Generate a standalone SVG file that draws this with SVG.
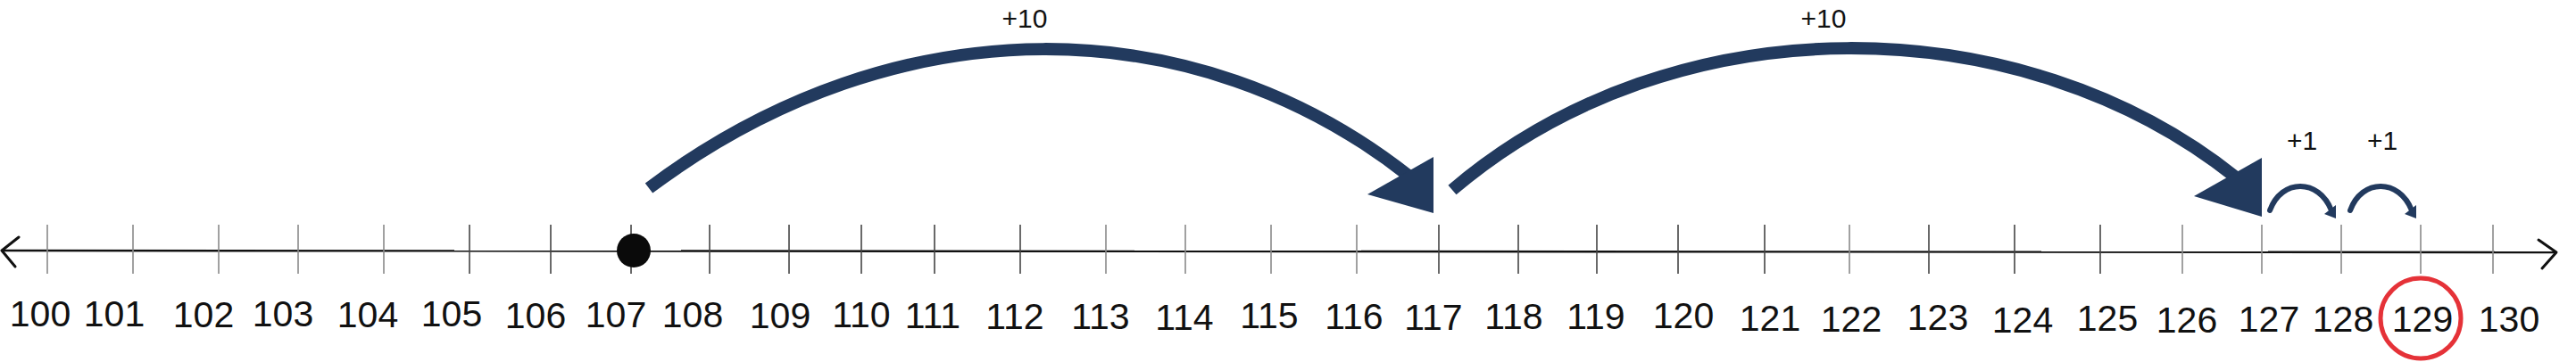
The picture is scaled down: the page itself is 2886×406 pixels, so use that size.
<svg xmlns="http://www.w3.org/2000/svg" width="2886" height="406" viewBox="0 0 2886 406">
<style>
.tk{stroke:#444;stroke-width:1.6}
.tg{stroke:#8a8a8a;stroke-width:1.6}
.lb{font-family:"Liberation Sans",Arial,sans-serif;font-size:41px;fill:#111;text-anchor:middle}
.jl{font-family:"Liberation Sans",Arial,sans-serif;fill:#111;text-anchor:middle}
.big{fill:none;stroke:#223a5e;stroke-width:14}
.sm{fill:none;stroke:#223a5e;stroke-width:6;stroke-linecap:round}
.hd{fill:#223a5e}
</style>
<rect width="2886" height="406" fill="#fff"/>
<g id="axis">
<line x1="3" y1="281" x2="2864" y2="283" stroke="#111" stroke-width="2.4"/>
<polyline points="21,266 2,281 17,299" fill="none" stroke="#111" stroke-width="3" stroke-linecap="round" stroke-linejoin="round"/>
<polyline points="2844,269 2864,283 2848,301" fill="none" stroke="#111" stroke-width="3" stroke-linecap="round" stroke-linejoin="round"/>
</g>
<g id="n100"><line class="tg" x1="53" y1="252" x2="53" y2="307"/><text class="lb" x="45" y="366">100</text></g>
<g id="n101"><line class="tg" x1="149" y1="252" x2="149" y2="307"/><text class="lb" x="128" y="366">101</text></g>
<g id="n102"><line class="tg" x1="245" y1="252" x2="245" y2="307"/><text class="lb" x="228" y="367">102</text></g>
<g id="n103"><line class="tg" x1="334" y1="252" x2="334" y2="307"/><text class="lb" x="317" y="366">103</text></g>
<g id="n104"><line class="tg" x1="430" y1="252" x2="430" y2="307"/><text class="lb" x="412" y="367">104</text></g>
<g id="n105"><line class="tk" x1="526" y1="252" x2="526" y2="307"/><text class="lb" x="506" y="366">105</text></g>
<g id="n106"><line class="tk" x1="617" y1="252" x2="617" y2="307"/><text class="lb" x="600" y="368">106</text></g>
<g id="n107"><line class="tk" x1="707" y1="252" x2="707" y2="307"/><text class="lb" x="690" y="367">107</text><circle cx="710" cy="281" r="19" fill="#0a0a0a"/></g>
<g id="n108"><line class="tk" x1="795" y1="252" x2="795" y2="307"/><text class="lb" x="776" y="367">108</text></g>
<g id="n109"><line class="tk" x1="884" y1="252" x2="884" y2="307"/><text class="lb" x="874" y="368">109</text></g>
<g id="n110"><line class="tk" x1="965" y1="252" x2="965" y2="307"/><text class="lb" x="965" y="367">110</text></g>
<g id="n111"><line class="tk" x1="1047" y1="252" x2="1047" y2="307"/><text class="lb" x="1045" y="368">111</text></g>
<g id="n112"><line class="tk" x1="1143" y1="252" x2="1143" y2="307"/><text class="lb" x="1137" y="369">112</text></g>
<g id="n113"><line class="tg" x1="1239" y1="252" x2="1239" y2="307"/><text class="lb" x="1233" y="369">113</text></g>
<g id="n114"><line class="tg" x1="1328" y1="252" x2="1328" y2="307"/><text class="lb" x="1327" y="370">114</text></g>
<g id="n115"><line class="tg" x1="1424" y1="252" x2="1424" y2="307"/><text class="lb" x="1422" y="368">115</text></g>
<g id="n116"><line class="tg" x1="1520" y1="252" x2="1520" y2="307"/><text class="lb" x="1517" y="369">116</text></g>
<g id="n117"><line class="tk" x1="1612" y1="252" x2="1612" y2="307"/><text class="lb" x="1606" y="370">117</text></g>
<g id="n118"><line class="tk" x1="1701" y1="252" x2="1701" y2="307"/><text class="lb" x="1696" y="369">118</text></g>
<g id="n119"><line class="tk" x1="1789" y1="252" x2="1789" y2="307"/><text class="lb" x="1788" y="369">119</text></g>
<g id="n120"><line class="tk" x1="1880" y1="252" x2="1880" y2="307"/><text class="lb" x="1886" y="368">120</text></g>
<g id="n121"><line class="tk" x1="1977" y1="252" x2="1977" y2="307"/><text class="lb" x="1983" y="371">121</text></g>
<g id="n122"><line class="tg" x1="2072" y1="252" x2="2072" y2="307"/><text class="lb" x="2074" y="372">122</text></g>
<g id="n123"><line class="tk" x1="2161" y1="252" x2="2161" y2="307"/><text class="lb" x="2171" y="370">123</text></g>
<g id="n124"><line class="tk" x1="2257" y1="252" x2="2257" y2="307"/><text class="lb" x="2266" y="373">124</text></g>
<g id="n125"><line class="tk" x1="2353" y1="252" x2="2353" y2="307"/><text class="lb" x="2361" y="371">125</text></g>
<g id="n126"><line class="tg" x1="2445" y1="252" x2="2445" y2="307"/><text class="lb" x="2450" y="373">126</text></g>
<g id="n127"><line class="tg" x1="2534" y1="252" x2="2534" y2="307"/><text class="lb" x="2542" y="372">127</text></g>
<g id="n128"><line class="tg" x1="2623" y1="252" x2="2623" y2="307"/><text class="lb" x="2625" y="372">128</text></g>
<g id="n129"><line class="tg" x1="2712" y1="252" x2="2712" y2="307"/><text class="lb" x="2714" y="372">129</text><circle cx="2712" cy="357" r="45" fill="none" stroke="#e53238" stroke-width="5"/></g>
<g id="n130"><line class="tg" x1="2793" y1="252" x2="2793" y2="307"/><text class="lb" x="2811" y="372">130</text></g>
<g id="connectors">
<path class="big" d="M727,211 C1007,1 1341,10 1578,197"/>
<polygon class="hd" points="1606,176 1606,239 1532,218"/>
<text class="jl" x="1148" y="31" font-size="30">+10</text>
<path class="big" d="M1627,213 C1877,0 2265,7 2505,199"/>
<polygon class="hd" points="2534,177 2534,243 2458,220"/>
<text class="jl" x="2043" y="31" font-size="30">+10</text>
<path class="sm" d="M2543,236 C2556,200 2598,200 2612,236"/>
<polygon class="hd" points="2604,240 2617,230 2617,245"/>
<text class="jl" x="2579" y="168" font-size="30">+1</text>
<path class="sm" d="M2633,236 C2646,200 2688,200 2702,236"/>
<polygon class="hd" points="2694,240 2707,230 2707,245"/>
<text class="jl" x="2669" y="168" font-size="30">+1</text>
</g>
</svg>
